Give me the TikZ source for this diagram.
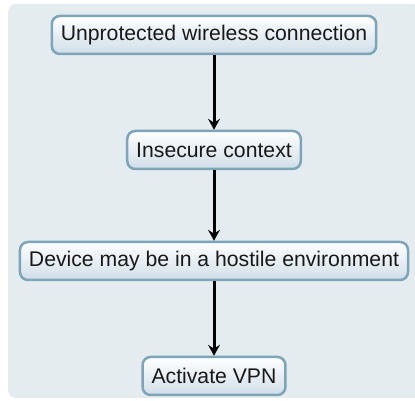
\documentclass[tikz,border=0pt]{standalone}
\usepackage{fontspec}
\setmainfont{Liberation Sans}
\usetikzlibrary{arrows.meta}
\definecolor{panelbg}{HTML}{E4ECF0}
\definecolor{boxedge}{HTML}{7DA5B9}
\definecolor{boxlow}{HTML}{D0DEE8}
\tikzset{
  stepbox/.style={draw=boxedge, line width=2.5pt, rounded corners=8pt,
    top color=white, bottom color=boxlow, font=\fontsize{21.2}{24}\selectfont,
    minimum height=38pt, inner xsep=9pt, text=black!90},
  flow/.style={-{Stealth[length=11pt,width=12pt,inset=4pt]}, line width=3pt, black}
}
\begin{document}
\begin{tikzpicture}[x=1pt,y=1pt]
  \useasboundingbox (0,0) rectangle (415,401);
  \fill[white] (0,0) rectangle (415,401);
  \fill[panelbg, rounded corners=8pt] (8,3) rectangle (422,397);
  \node[stepbox] (a) at (214,366) {Unprotected wireless connection};
  \node[stepbox] (b) at (214,251) {Insecure context};
  \node[stepbox] (c) at (214,140) {Device may be in a hostile environment};
  \node[stepbox] (d) at (214,25) {Activate VPN};
  \draw[flow] (a) -- (b);
  \draw[flow] (b) -- (c);
  \draw[flow] (c) -- (d);
\end{tikzpicture}
\end{document}
